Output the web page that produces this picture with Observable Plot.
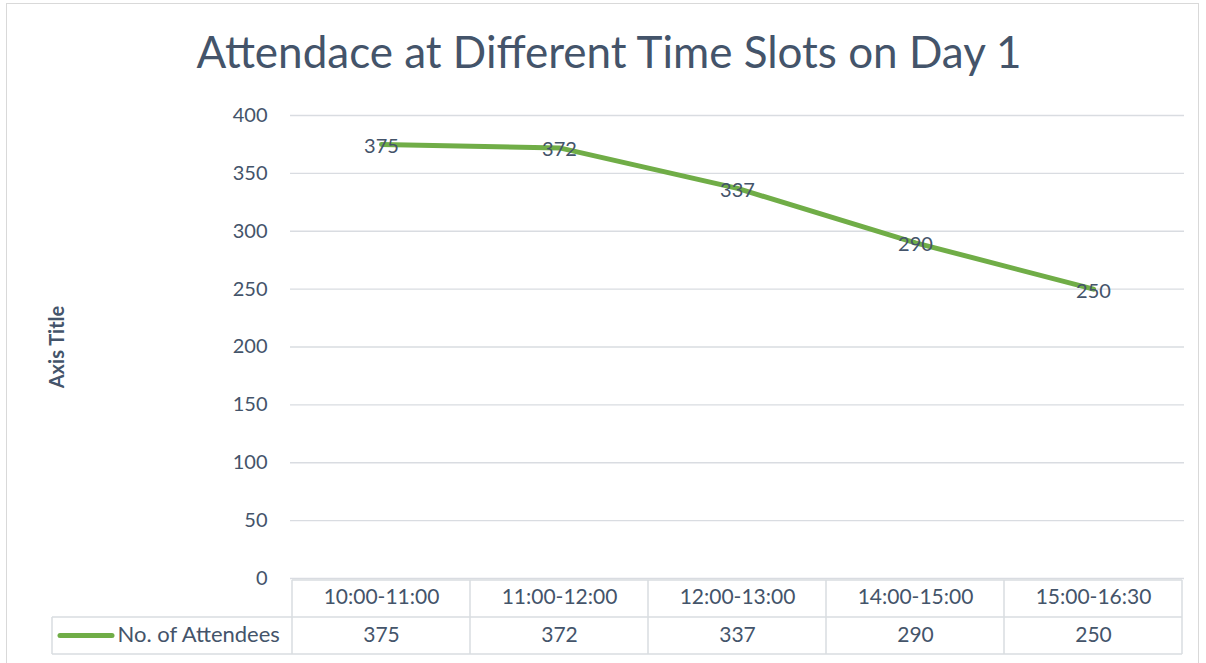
<!DOCTYPE html>
<html>
<head>
<meta charset="utf-8">
<script src="https://cdn.jsdelivr.net/npm/d3@7"></script>
<script src="https://cdn.jsdelivr.net/npm/@observablehq/plot@0.6"></script>
<style>
  html, body { margin: 0; padding: 0; background: #fff; }
  #wrap { position: relative; width: 1206px; height: 663px; overflow: hidden; font-family: Lato, "Open Sans", sans-serif; }
  #frame { position: absolute; left: 6px; top: 3px; width: 1193px; height: 700px; border: 1px solid #d9d9d9; box-sizing: border-box; }
  #title { position: absolute; left: 0; top: 0; width: 1206px; height: 95px; text-align: center; font-size: 44px; line-height: 102px; color: #44546a; padding-left: 12px; box-sizing: border-box; white-space: nowrap; }
  #chart { position: absolute; left: 0; top: 95px; }
</style>
</head>
<body>
<div id="wrap">
  <div id="frame"></div>
  <div id="title">Attendace at Different Time Slots on Day 1</div>
  <div id="chart"></div>
</div>
<script>
const categories = ["10:00-11:00", "11:00-12:00", "12:00-13:00", "14:00-15:00", "15:00-16:30"];
const attendees = [375, 372, 337, 290, 250];
const seriesName = "No. of Attendees";
const yTicks = [0, 50, 100, 150, 200, 250, 300, 350, 400];
const axisTitle = "Axis Title";

const data = categories.map((c, i) => ({slot: c, value: attendees[i]}));
const textColor = "#44546a";
const gridColor = "#d9dce1";
const green = "#70ad47";

const chart = Plot.plot({
  width: 1206,
  height: 568,
  marginLeft: 290,
  marginRight: 22,
  marginTop: 20,
  marginBottom: 85,
  style: {fontFamily: "Lato, 'Open Sans', sans-serif", fontSize: "20px", color: textColor, background: "transparent"},
  x: {type: "point", domain: categories, padding: 0.5, axis: null},
  y: {domain: [0, 400], axis: null},
  marks: [
    Plot.ruleY(yTicks, {stroke: gridColor, strokeWidth: 1.3}),
    Plot.axisY({ticks: yTicks, tickSize: 0, tickPadding: 23, label: null, fontSize: 20, fill: textColor}),
    Plot.line(data, {x: "slot", y: "value", stroke: green, strokeWidth: 5, strokeLinecap: "round", strokeLinejoin: "round"}),
    Plot.text(data, {x: "slot", y: "value", text: d => String(d.value), fill: textColor, fontSize: 20, dy: 2}),
    Plot.text(data, {x: "slot", text: "slot", frameAnchor: "bottom", dy: 25, fill: textColor, fontSize: 21}),
    Plot.text(data, {x: "slot", text: d => String(d.value), frameAnchor: "bottom", dy: 63, fill: textColor, fontSize: 21}),
    Plot.text([seriesName], {text: d => d, frameAnchor: "bottom-left", dx: -173, dy: 63, textAnchor: "start", fill: textColor, fontSize: 22}),
    Plot.text([axisTitle], {text: d => d, frameAnchor: "left", textAnchor: "middle", dx: -233, dy: 0, rotate: -90, fill: textColor, fontSize: 20, fontWeight: "bold"})
  ]
});

document.getElementById("chart").appendChild(chart);

// data table borders, positioned through the plot's x scale
const xs = chart.scale("x");
const step = xs.apply(categories[1]) - xs.apply(categories[0]);
const edges = categories.map(c => xs.apply(c) - step / 2).concat([xs.apply(categories[categories.length - 1]) + step / 2]);
const svg = d3.select(chart);
const yBottom = 568 - 85;
const rowTop = yBottom + 2, rowMid = yBottom + 39, rowBot = yBottom + 76;
const legendLeft = 52;
const g = svg.append("g").attr("stroke", gridColor).attr("stroke-width", 1.5).attr("fill", "none");
g.append("line").attr("x1", edges[0]).attr("x2", edges[edges.length - 1]).attr("y1", rowTop).attr("y2", rowTop);
g.append("line").attr("x1", legendLeft).attr("x2", edges[edges.length - 1]).attr("y1", rowMid).attr("y2", rowMid);
g.append("line").attr("x1", legendLeft).attr("x2", edges[edges.length - 1]).attr("y1", rowBot).attr("y2", rowBot);
edges.forEach(x => g.append("line").attr("x1", x).attr("x2", x).attr("y1", rowTop).attr("y2", rowBot));
g.append("line").attr("x1", legendLeft).attr("x2", legendLeft).attr("y1", rowMid).attr("y2", rowBot);
// legend key
svg.append("line").attr("x1", 60).attr("x2", 112).attr("y1", (rowMid + rowBot) / 2).attr("y2", (rowMid + rowBot) / 2)
  .attr("stroke", green).attr("stroke-width", 5).attr("stroke-linecap", "round");
</script>
</body>
</html>
